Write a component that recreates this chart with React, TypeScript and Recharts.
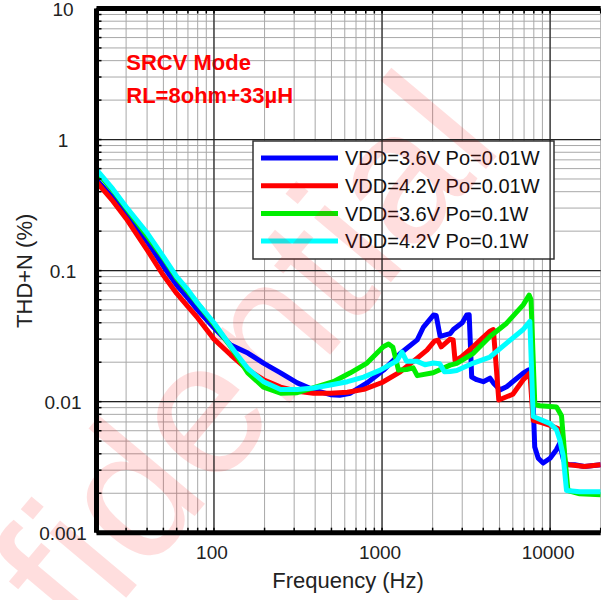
import React from "react";
import {
  LineChart, Line, XAxis, YAxis, CartesianGrid, ReferenceLine,
} from "recharts";

// THD+N vs frequency, SRCV mode, 8 ohm + 33uH load.
// Values (log-log plot).

const FONT = '"Liberation Sans", Arial, Helvetica, sans-serif';

// frame of the plot area (px) – used for inner tick marks and label placement
const PLOT_LEFT = 96.5;
const PLOT_TOP = 8.5;
const PLOT_BOTTOM = 532.7;

// ── axis ticks / grid ──────────────────────────────────────────────────────
const xTicks = [
  20, 30, 40, 50, 60, 70, 80, 90,
  100, 200, 300, 400, 500, 600, 700, 800, 900,
  1000, 2000, 3000, 4000, 5000, 6000, 7000, 8000, 9000,
  10000, 20000,
];
const xMajor = [100, 1000, 10000];

const yTicks = [
  0.001, 0.002, 0.003, 0.004, 0.005, 0.006, 0.007, 0.008, 0.009,
  0.01, 0.02, 0.03, 0.04, 0.05, 0.06, 0.07, 0.08, 0.09,
  0.1, 0.2, 0.3, 0.4, 0.5, 0.6, 0.7, 0.8, 0.9,
  1, 2, 3, 4, 5, 6, 7, 8, 9, 10,
];
const yMajor = [0.01, 0.1, 1];
const yLabels = [0.001, 0.01, 0.1, 1, 10];

// ── VDD=3.6V Po=0.01W ──────────────────────────────────────────────────────
const blueHz = [
  20, 25, 30, 40, 50, 60, 70, 80, 100, 126, 159, 197, 249, 313, 391, 493, 560,
  648, 814, 1021, 1283, 1620, 1764, 2022, 2100, 2216, 2541, 2657, 3000, 3191,
  3300, 3416, 3658, 4003, 4389, 4597, 5031, 5512, 6917, 7406, 7800, 8100, 8500,
  9090, 10000, 10900, 11400, 12000, 12500, 14000, 16000, 20000,
];
const blueThd = [
  0.495, 0.36, 0.273, 0.167, 0.108, 0.0776, 0.0616, 0.05, 0.0366, 0.027, 0.0235,
  0.0197, 0.0166, 0.0139, 0.0123, 0.0113, 0.0112, 0.0116, 0.0139, 0.0174, 0.0233,
  0.0296, 0.0371, 0.0458, 0.0455, 0.0315, 0.033, 0.0355, 0.04, 0.0458, 0.046,
  0.0154, 0.0147, 0.0142, 0.0151, 0.0139, 0.0123, 0.013, 0.0165, 0.0174, 0.0178,
  0.0045, 0.0037, 0.0034, 0.0037, 0.0043, 0.0048, 0.0036, 0.0033, 0.0033, 0.0032,
  0.0033,
];

// ── VDD=4.2V Po=0.01W ──────────────────────────────────────────────────────
const redHz = [
  20, 25, 30, 40, 50, 60, 70, 80, 100, 126, 159, 197, 249, 313, 391, 493, 622,
  780, 1000, 1283, 1620, 1850, 2050, 2150, 2250, 2541, 2650, 2720, 3000, 3493,
  4000, 4389, 4597, 4950, 5512, 6000, 6917, 7580, 7930, 9000, 10000, 11200,
  11800, 12300, 13000, 16000, 20000,
];
const redThd = [
  0.475, 0.34, 0.25, 0.144, 0.092, 0.067, 0.053, 0.0435, 0.03, 0.0227, 0.0175,
  0.0147, 0.0129, 0.012, 0.0116, 0.0116, 0.0118, 0.0124, 0.014, 0.0169, 0.0215,
  0.0247, 0.029, 0.0295, 0.0262, 0.03, 0.0296, 0.0205, 0.0222, 0.0263, 0.031,
  0.0345, 0.0355, 0.0103, 0.0109, 0.0114, 0.0147, 0.0165, 0.0072, 0.0069, 0.0066,
  0.0062, 0.0055, 0.0034, 0.0033, 0.0032, 0.0033,
];

// ── VDD=3.6V Po=0.1W ───────────────────────────────────────────────────────
const greenHz = [
  20, 25, 30, 40, 50, 60, 70, 80, 100, 126, 159, 197, 249, 313, 411, 513, 648,
  814, 1017, 1094, 1160, 1253, 1400, 1532, 1620, 2014, 2541, 2784, 3493, 4389,
  5512, 6917, 7507, 7700, 8110, 8690, 10000, 10920, 11690, 12220, 12760, 15000,
  20000,
];
const greenThd = [
  0.57, 0.41, 0.3, 0.184, 0.125, 0.0876, 0.069, 0.056, 0.039, 0.0262, 0.0166,
  0.0129, 0.0116, 0.0117, 0.013, 0.0142, 0.0166, 0.0197, 0.0262, 0.0275, 0.026,
  0.0174, 0.0176, 0.0181, 0.0158, 0.0166, 0.019, 0.0196, 0.0234, 0.0314, 0.0397,
  0.0548, 0.065, 0.06, 0.0095, 0.0093, 0.0092, 0.0091, 0.0078, 0.0039, 0.0021,
  0.00198, 0.00195,
];

// ── VDD=4.2V Po=0.1W ───────────────────────────────────────────────────────
const cyanHz = [
  20, 25, 30, 40, 50, 60, 70, 80, 100, 126, 159, 197, 249, 313, 391, 493, 622,
  777, 975, 1227, 1315, 1400, 1620, 1800, 2014, 2200, 2350, 2541, 2784, 3493,
  4389, 5512, 6917, 7580, 7930, 9000, 10000, 10920, 11420, 11950, 12520, 15000,
  20000,
];
const cyanThd = [
  0.59, 0.42, 0.307, 0.194, 0.128, 0.0899, 0.0713, 0.0564, 0.04, 0.0264, 0.0179,
  0.0142, 0.0124, 0.0124, 0.0127, 0.0134, 0.0142, 0.0154, 0.0174, 0.0205, 0.0239,
  0.0203, 0.0203, 0.0191, 0.0197, 0.0195, 0.0169, 0.017, 0.0173, 0.0197, 0.0219,
  0.028, 0.0355, 0.041, 0.0077, 0.0072, 0.0068, 0.0061, 0.0051, 0.0039, 0.0021,
  0.00205, 0.00205,
];

const toPoints = (hz: number[], thd: number[]) =>
  hz.map((f, i) => ({ hz: f, thd: thd[i] }));

const series = [
  { name: "VDD=3.6V Po=0.01W", color: "#0000ff", data: toPoints(blueHz, blueThd) },
  { name: "VDD=4.2V Po=0.01W", color: "#ff0000", data: toPoints(redHz, redThd) },
  { name: "VDD=3.6V Po=0.1W",  color: "#00ee00", data: toPoints(greenHz, greenThd) },
  { name: "VDD=4.2V Po=0.1W",  color: "#00ffff", data: toPoints(cyanHz, cyanThd) },
];

// Y tick: centred label at the left for decades + short inner tick mark
function YTick({ y, payload }: any) {
  const v = payload.value;
  const cy = payload.coordinate ?? y;
  const isLabel = yLabels.some((d) => Math.abs(d - v) < d * 1e-6);
  return (
    <g>
      <line x1={PLOT_LEFT} x2={PLOT_LEFT + 5} y1={cy} y2={cy} stroke="#000" strokeWidth={1.5} />
      {isLabel && (
        <text x={63} y={cy + 7} textAnchor="middle" fontSize={19} fill="#222" fontFamily={FONT}>
          {String(v)}
        </text>
      )}
    </g>
  );
}

// X tick: label under decades, inner tick marks at bottom and top borders
function XTick({ x, payload }: any) {
  const v = payload.value;
  const cx = payload.coordinate ?? x;
  return (
    <g>
      <line x1={cx} x2={cx} y1={PLOT_BOTTOM} y2={PLOT_BOTTOM - 5} stroke="#000" strokeWidth={1.5} />
      <line x1={cx} x2={cx} y1={PLOT_TOP} y2={PLOT_TOP + 5} stroke="#000" strokeWidth={1.5} />
      {xMajor.includes(v) && (
        <text x={cx - 2} y={558.5} textAnchor="middle" fontSize={19} fill="#222" fontFamily={FONT}>
          {v}
        </text>
      )}
    </g>
  );
}

// legend drawn inside the svg so the watermark can sit on top of it
const LEG_X = 253;
const LEG_Y = 141;
const LEG_ROW = 27.7;

function LegendBox() {
  return (
    <g>
      <rect x={LEG_X} y={LEG_Y} width={301} height={118} fill="#fff" stroke="#333" strokeWidth={1.5} />
      {series.map((s, i) => {
        const cy = LEG_Y + 17 + i * LEG_ROW;
        return (
          <g key={s.name}>
            <line x1={LEG_X + 8} x2={LEG_X + 85} y1={cy} y2={cy} stroke={s.color} strokeWidth={5} />
            <text x={LEG_X + 92} y={cy + 7.2} fontSize={20} fill="#111" fontFamily={FONT}>
              {s.name}
            </text>
          </g>
        );
      })}
    </g>
  );
}

export default function App() {
  return (
    <div style={{ position: "absolute", left: 0, top: 0, width: 601, height: 600, background: "#fff" }}>
      <LineChart
        width={601}
        height={600}
        margin={{ top: PLOT_TOP, right: 0.3, bottom: 0, left: 0 }}
      >
        <CartesianGrid stroke="#a8a8a8" strokeWidth={1} />
        <XAxis
          dataKey="hz"
          type="number"
          scale="log"
          domain={[20, 20000]}
          allowDataOverflow
          ticks={xTicks}
          interval={0}
          height={600 - PLOT_BOTTOM}
          tick={<XTick />}
          tickLine={false}
          axisLine={{ stroke: "#000", strokeWidth: 5 }}
        />
        <YAxis
          type="number"
          scale="log"
          domain={[0.001, 10]}
          allowDataOverflow
          ticks={yTicks}
          interval={0}
          width={PLOT_LEFT}
          tick={<YTick />}
          tickLine={false}
          axisLine={{ stroke: "#000", strokeWidth: 5 }}
        />
        {xMajor.map((v) => (
          <ReferenceLine key={"x" + v} x={v} stroke="#222" strokeWidth={1.2} />
        ))}
        {yMajor.map((v) => (
          <ReferenceLine key={"y" + v} y={v} stroke="#222" strokeWidth={1.2} />
        ))}
        <ReferenceLine y={10} stroke="#000" strokeWidth={5} />

        {series.map((s) => (
          <Line
            key={s.name}
            data={s.data}
            dataKey="thd"
            name={s.name}
            type="linear"
            stroke={s.color}
            strokeWidth={5}
            strokeLinejoin="round"
            dot={false}
            activeDot={false}
            isAnimationActive={false}
          />
        ))}

        <LegendBox />

        <text x={126.3} y={70} fontSize={22} fontWeight="bold" fill="#ff0000" fontFamily={FONT}>
          SRCV Mode
        </text>
        <text x={126.3} y={103.3} fontSize={22} fontWeight="bold" fill="#ff0000" fontFamily={FONT}>
          RL=8ohm+33µH
        </text>

        <text x={348} y={588} textAnchor="middle" fontSize={22} fill="#222" fontFamily={FONT}>
          Frequency (Hz)
        </text>
        <text
          transform="translate(31.8, 270.8) rotate(-90)"
          textAnchor="middle"
          fontSize={22}
          fill="#222"
          fontFamily={FONT}
        >
          THD+N (%)
        </text>

        {/* faint diagonal watermark, drawn over everything */}
        <text
          transform="translate(-140, 915) rotate(-50)"
          fontSize={190}
          fill="#ff0000"
          fillOpacity={0.13}
          fontFamily={FONT}
          pointerEvents="none"
        >
          Confidential
        </text>
      </LineChart>
    </div>
  );
}
